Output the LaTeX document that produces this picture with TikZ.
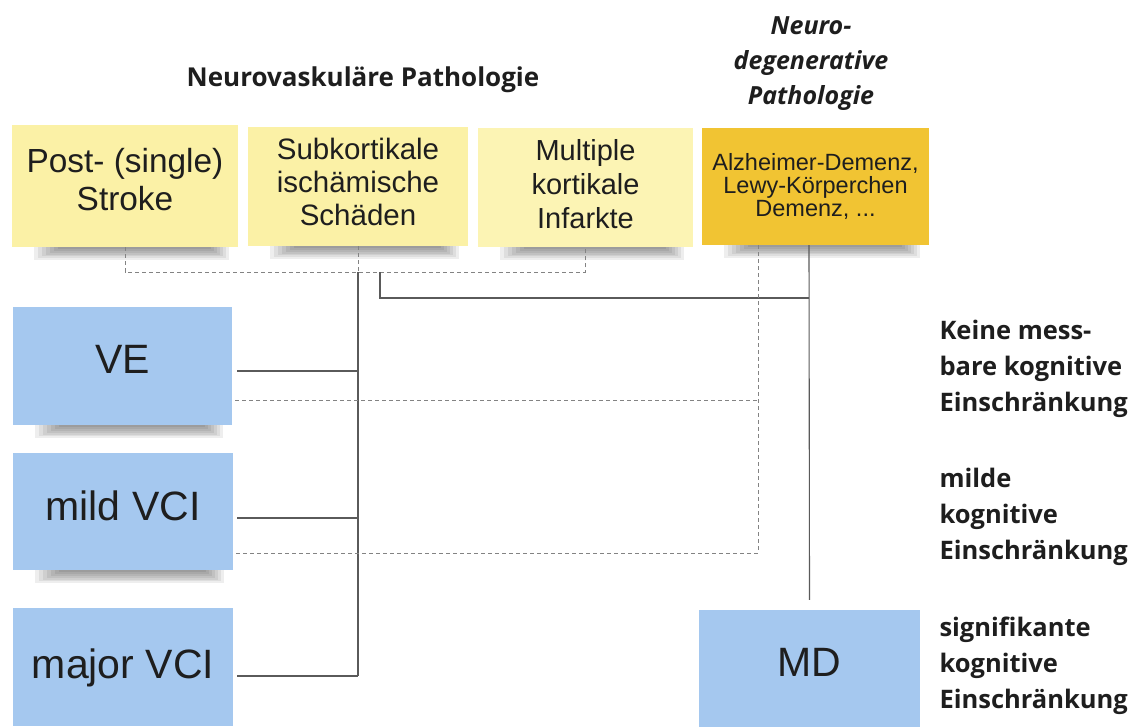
\documentclass[tikz,border=0pt]{standalone}
\usepackage{fontspec}
\setmainfont{Liberation Sans}
\newfontfamily\opensans{Open Sans}
\usetikzlibrary{calc}
\definecolor{noteyellow}{HTML}{FBF1A6}
\definecolor{notepale}{HTML}{FCF4B4}
\definecolor{notegold}{HTML}{F1C433}
\definecolor{noteblue}{HTML}{A5C8EF}
\definecolor{txtdark}{HTML}{1E1E1E}
\definecolor{linegray}{HTML}{5A5A5A}
\tikzset{
  note/.style={rectangle, inner sep=0pt, align=center, text=txtdark},
  yellownote/.style={note, fill=noteyellow},
  blunote/.style={note, fill=noteblue, font=\fontsize{41}{46}\selectfont, text height=29.5pt},
  solidline/.style={draw=linegray, line width=1.1pt},
  dashline/.style={draw=linegray!75, line width=1pt, dash pattern=on 4pt off 3pt},
  shadowlayer/.style={fill=black, opacity=0.065},
  sidelabel/.style={anchor=west, align=left, text=txtdark,
    font=\opensans\bfseries\fontsize{25.5}{36}\selectfont},
}
\newcommand\stickyshadow[1]{%
  \foreach \i in {1,...,7}{%
    \fill[shadowlayer] ([xshift={18pt+4pt*\i}]#1.south west) rectangle
      ([xshift={-6pt-3pt*\i}, yshift={-15pt+1.9pt*\i}]#1.south east);}}
\begin{document}
\begin{tikzpicture}[x=1pt,y=-1pt]
\useasboundingbox (0,0) rectangle (1137,727);
\clip (0,0) rectangle (1137,727);
\fill[white] (0,0) rectangle (1137,727);

% titles
\node[text=txtdark, font=\opensans\bfseries\fontsize{26}{30}\selectfont] (tvasc) at (363,80) {Neurovaskuläre Pathologie};
\node[text=txtdark, align=center, font=\opensans\bfseries\itshape\fontsize{25}{35}\selectfont] (tdeg) at (811,64) {Neuro-\\degenerative\\Pathologie};

% top notes
\node[yellownote, minimum width=226pt, minimum height=122pt, text depth=14pt,
  font=\fontsize{33.4}{38}\selectfont] (post) at (125,186) {Post- (single)\\Stroke};
\node[yellownote, minimum width=220pt, minimum height=119pt, text depth=9pt,
  font=\fontsize{29.5}{33}\selectfont] (sub) at (358,186.5) {Subkortikale\\ischämische\\Schäden};
\node[note, fill=notepale, minimum width=215pt, minimum height=119pt, text depth=8pt,
  font=\fontsize{29}{34}\selectfont] (mult) at (585.5,187.5) {Multiple\\kortikale\\Infarkte};
\node[note, fill=notegold, minimum width=227pt, minimum height=117pt,
  font=\fontsize{23.5}{23}\selectfont] (alz) at (815.5,186.5) {Alzheimer-Demenz,\\Lewy-Körperchen\\Demenz, ...};

% bottom notes
\node[blunote, minimum width=219pt, minimum height=118pt, text depth=14pt] (ve) at (122.5,366) {VE};
\node[blunote, minimum width=220pt, minimum height=117pt, text depth=11pt] (mild) at (123,511.5) {mild VCI};
\node[blunote, minimum width=220pt, minimum height=118pt, text depth=6pt] (major) at (123,667) {major VCI};
\node[blunote, minimum width=221pt, minimum height=118pt, text depth=14pt] (md) at (809.5,669) {MD};

% soft shadows under the notes
\stickyshadow{post}
\stickyshadow{sub}
\stickyshadow{mult}
\stickyshadow{alz}
\stickyshadow{ve}
\stickyshadow{mild}

% right labels
\node[sidelabel] (l1) at (936,369) {Keine mess-\\bare kognitive\\Einschränkung};
\node[sidelabel] (l2) at (936,517) {milde\\kognitive\\Einschränkung};
\node[sidelabel] (l3) at (936,666) {signifikante\\kognitive\\Einschränkung};

% junction coordinates
\coordinate (jy) at (0,272);
\coordinate (trunkTop) at (sub.south |- jy);
\coordinate (brTop) at (380,272);
\coordinate (brCorner) at (380,298);
\coordinate (degX) at (809,0);
\coordinate (dashX) at (758,0);
\coordinate (veR) at (237,371);
\coordinate (mildR) at (237,518);
\coordinate (majorR) at (237,676);
\coordinate (veD) at (235,400);
\coordinate (mildD) at (235,553);

% dashed vascular group
\draw[dashline] (post.south) -- (post.south |- jy) -| (mult.south);
\draw[dashline] (sub.south) -- (trunkTop);

% solid trunk to vascular outcomes
\draw[solidline] (trunkTop) -- (trunkTop |- majorR);
\draw[solidline] (veR) -- (veR -| trunkTop);
\draw[solidline] (mildR) -- (mildR -| trunkTop);
\draw[solidline] (majorR) -- (majorR -| trunkTop);

% neurodegenerative solid line
\draw[solidline] (degX |- alz.south) -- ([yshift=10pt]md.north);
\draw[solidline] (brTop) -- (brCorner) -- (brCorner -| degX);

% neurodegenerative dashed line
\draw[dashline] (dashX |- alz.south) -- (dashX |- mildD) -- (mildD);
\draw[dashline] (veD) -- (veD -| dashX);
\end{tikzpicture}
\end{document}
